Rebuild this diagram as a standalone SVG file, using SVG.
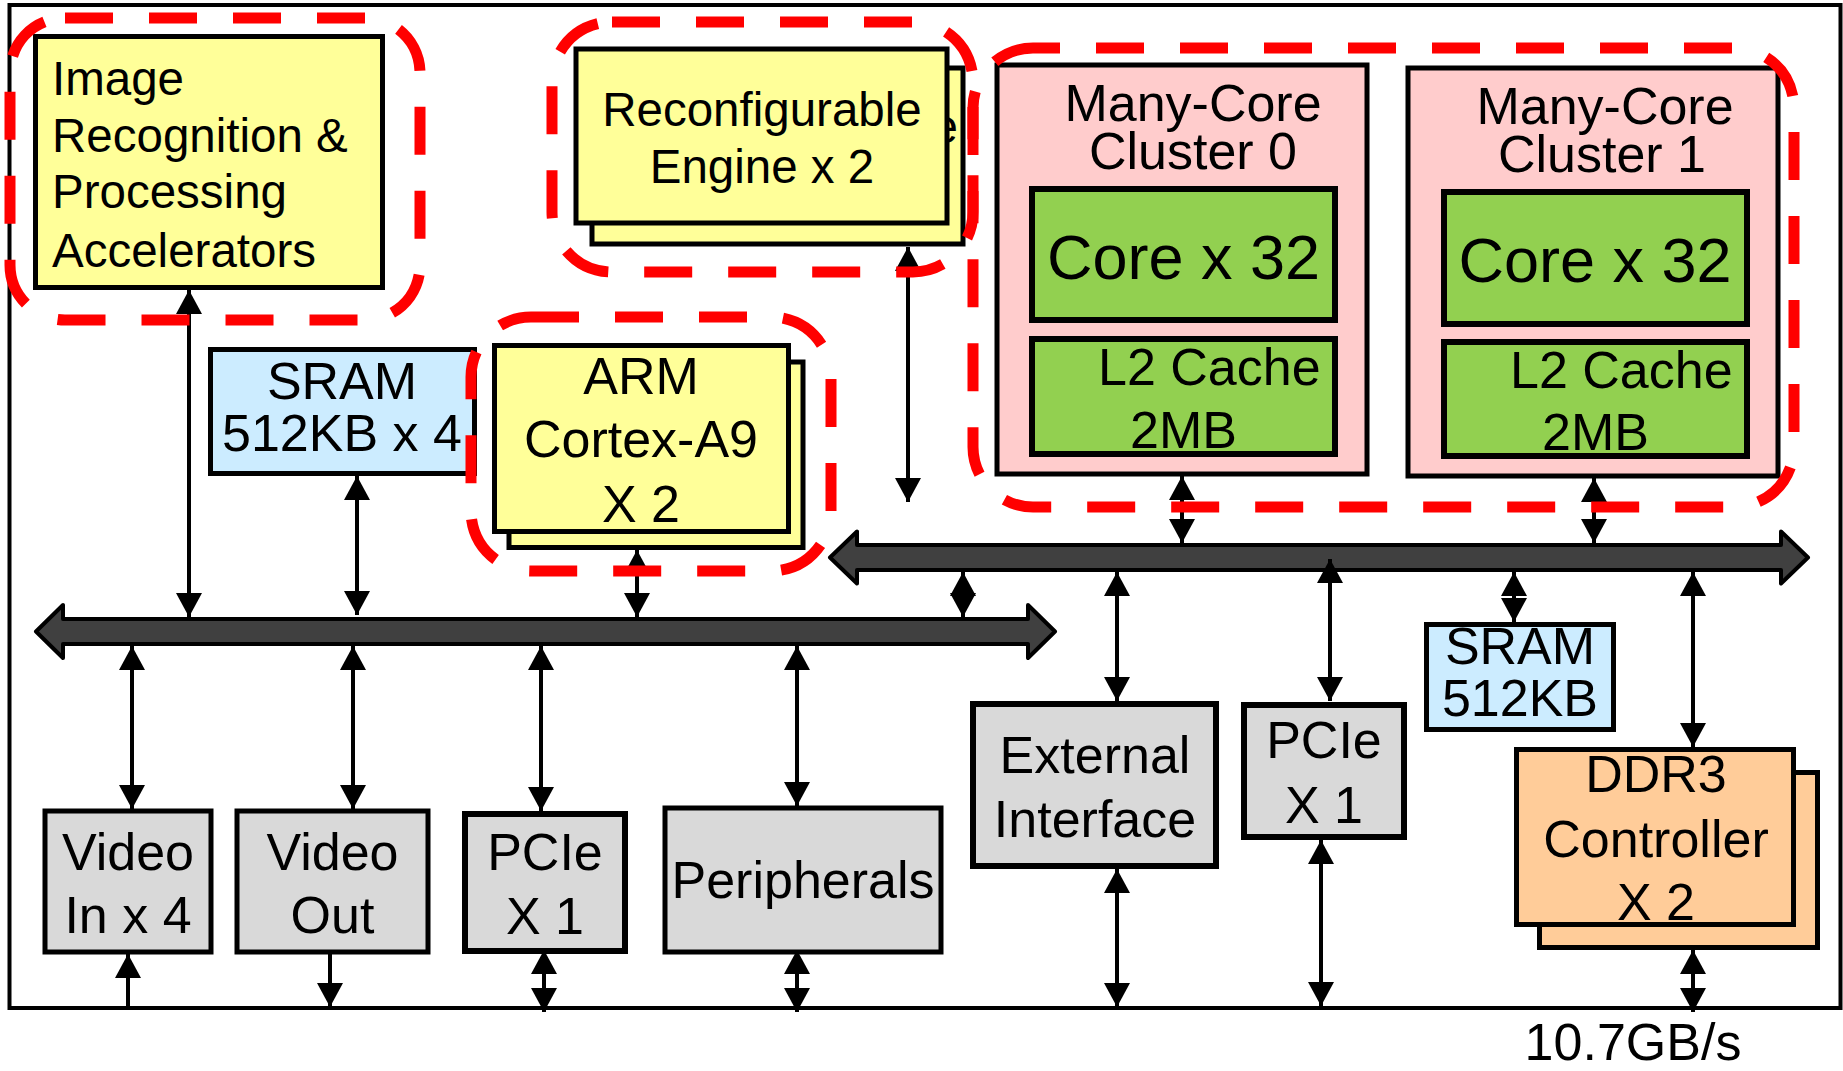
<svg xmlns="http://www.w3.org/2000/svg" width="1843" height="1071" viewBox="0 0 1843 1071">
<defs>
<style>
text{font-family:"Liberation Sans",Arial,sans-serif;fill:#000}
.t52{font-size:52px}
.t47{font-size:47.5px}
.t63{font-size:63px}
.c{text-anchor:middle}
.box{stroke:#000;stroke-width:5}
.thick{stroke-width:6}
.yel{fill:#FFFF99}
.pink{fill:#FFCCCC}
.grn{fill:#92D050}
.blu{fill:#CCECFF}
.gry{fill:#D9D9D9}
.org{fill:#FFCC99}
.bus{fill:#404040;stroke:#000;stroke-width:4;stroke-linejoin:round}
.conn{stroke:#000;stroke-width:4;fill:none}
.dbl{marker-start:url(#ah);marker-end:url(#ah)}
.one{marker-end:url(#ah)}
.grp{fill:none;stroke:#FF0000;stroke-width:11;stroke-dasharray:48 36}
</style>
<marker id="ah" viewBox="0 0 24 26" refX="24" refY="13" markerWidth="24" markerHeight="26" markerUnits="userSpaceOnUse" orient="auto-start-reverse">
<path d="M0,0 L24,13 L0,26 z" fill="#000"/>
</marker>
</defs>
<rect width="1843" height="1071" fill="#fff"/>
<rect id="chip" x="9.5" y="5" width="1831" height="1003" fill="none" stroke="#000" stroke-width="4"/>

<g id="image-recognition">
<rect class="box yel" x="35.5" y="36.5" width="347" height="251"/>
<text class="t47" x="52" y="95">Image</text>
<text class="t47" x="52" y="152">Recognition &amp;</text>
<text class="t47" x="52" y="208">Processing</text>
<text class="t47" x="52" y="267">Accelerators</text>
</g>

<g id="reconfigurable-engine">
<rect class="box yel" x="592" y="68" width="371" height="176"/>
<text class="t47" x="958" y="143" text-anchor="end">e</text>
<rect class="box yel" x="576" y="49" width="371" height="174"/>
<text class="t47 c" x="762" y="126">Reconfigurable</text>
<text class="t47 c" x="762" y="183">Engine x 2</text>
</g>

<g id="cluster0">
<rect class="box pink" x="997" y="65" width="370" height="409"/>
<text class="t52 c" x="1193" y="121">Many-Core</text>
<text class="t52 c" x="1193" y="169">Cluster 0</text>
<rect class="box thick grn" x="1032" y="189" width="303" height="131"/>
<text class="t63 c" x="1183.5" y="279">Core x 32</text>
<rect class="box thick grn" x="1032" y="339" width="303" height="115"/>
<text class="t52" x="1098" y="385">L2 Cache</text>
<text class="t52 c" x="1183.5" y="448">2MB</text>
</g>

<g id="cluster1">
<rect class="box pink" x="1408" y="68" width="370" height="408"/>
<text class="t52 c" x="1605" y="124">Many-Core</text>
<text class="t52 c" x="1602" y="172">Cluster 1</text>
<rect class="box thick grn" x="1444" y="192" width="303" height="132"/>
<text class="t63 c" x="1595" y="282">Core x 32</text>
<rect class="box thick grn" x="1444" y="342" width="303" height="114"/>
<text class="t52" x="1510" y="388">L2 Cache</text>
<text class="t52 c" x="1595.5" y="450">2MB</text>
</g>

<g id="sram-4">
<rect class="box blu" x="210.5" y="349.5" width="264" height="124"/>
<text class="t52 c" x="342" y="399">SRAM</text>
<text class="t52 c" x="342" y="451">512KB x 4</text>
</g>

<g id="arm">
<rect class="box yel" x="509" y="362" width="294" height="185.5"/>
<rect class="box yel" x="494.5" y="345.5" width="294" height="186"/>
<text class="t52 c" x="641" y="394">ARM</text>
<text class="t52 c" x="641" y="457">Cortex-A9</text>
<text class="t52 c" x="641" y="522">X 2</text>
</g>

<g id="video-in">
<rect class="box gry" x="45" y="811" width="166" height="141"/>
<text class="t52 c" x="128" y="870">Video</text>
<text class="t52 c" x="128" y="933">In x 4</text>
</g>

<g id="video-out">
<rect class="box gry" x="237" y="811" width="191" height="141"/>
<text class="t52 c" x="332.5" y="870">Video</text>
<text class="t52 c" x="332.5" y="933">Out</text>
</g>

<g id="pcie-left">
<rect class="box thick gry" x="465" y="814" width="160" height="137"/>
<text class="t52 c" x="545" y="870">PCIe</text>
<text class="t52 c" x="545" y="934">X 1</text>
</g>

<g id="peripherals">
<rect class="box gry" x="665" y="808" width="276" height="144"/>
<text class="t52 c" x="803" y="898">Peripherals</text>
</g>

<g id="external-interface">
<rect class="box thick gry" x="973" y="704" width="243" height="162"/>
<text class="t52 c" x="1095" y="773">External</text>
<text class="t52 c" x="1095" y="837">Interface</text>
</g>

<g id="pcie-right">
<rect class="box thick gry" x="1244" y="705" width="160" height="132"/>
<text class="t52 c" x="1324" y="758">PCIe</text>
<text class="t52 c" x="1324" y="823">X 1</text>
</g>

<g id="sram-1">
<rect class="box blu" x="1426.5" y="624.5" width="187" height="105"/>
<text class="t52 c" x="1520" y="664">SRAM</text>
<text class="t52 c" x="1520" y="716">512KB</text>
</g>

<g id="ddr3">
<rect class="box org" x="1539.5" y="772.5" width="278" height="175"/>
<rect class="box org" x="1516.5" y="749.5" width="277" height="175"/>
<text class="t52 c" x="1656" y="792">DDR3</text>
<text class="t52 c" x="1656" y="857">Controller</text>
<text class="t52 c" x="1656" y="920">X 2</text>
</g>

<g id="buses">
<polygon id="bus-upper" class="bus" points="830,557.5 857,531.5 857,545 1781,545 1781,531.5 1808,557.5 1781,583.5 1781,570 857,570 857,583.5"/>
<polygon id="bus-lower" class="bus" points="36,631.5 63,605 63,619 1028,619 1028,605 1055,631.5 1028,658 1028,644 63,644 63,658"/>
</g>

<g id="connectors">
<path class="conn dbl" d="M189,290 L189,617"/>
<path class="conn dbl" d="M357,476 L357,615"/>
<path class="conn dbl" d="M637,550 L637,617"/>
<path class="conn dbl" d="M908,247 L908,502"/>
<path class="conn dbl" d="M1182,476 L1182,543"/>
<path class="conn dbl" d="M1594,478 L1594,543"/>
<path class="conn dbl" d="M963,572 L963,617"/>
<path class="conn dbl" d="M1117,572 L1117,701"/>
<path class="conn dbl" d="M1330,559 L1330,701"/>
<path class="conn dbl" d="M1514,572 L1514,622"/>
<path class="conn dbl" d="M1693,572 L1693,747"/>
<path class="conn dbl" d="M132,646 L132,809"/>
<path class="conn dbl" d="M353,646 L353,809"/>
<path class="conn dbl" d="M541,646 L541,811"/>
<path class="conn dbl" d="M797,646 L797,806"/>
<path class="conn one" d="M128,1008 L128,954"/>
<path class="conn one" d="M330,954 L330,1007"/>
<path class="conn dbl" d="M544,950 L544,1012"/>
<path class="conn dbl" d="M797,950 L797,1012"/>
<path class="conn dbl" d="M1117,869 L1117,1007"/>
<path class="conn dbl" d="M1321,840 L1321,1006"/>
<path class="conn dbl" d="M1693,950 L1693,1012"/>
</g>

<g id="groups">
<rect class="grp" x="10" y="18" width="410" height="302" rx="55" ry="55"/>
<rect class="grp" x="552" y="22" width="421" height="250" rx="60" ry="60"/>
<rect class="grp" x="471" y="317" width="360" height="254" rx="60" ry="60"/>
<rect class="grp" x="973" y="48" width="821" height="459" rx="60" ry="60" stroke-dashoffset="21"/>
</g>

<text id="bandwidth" class="t52 c" x="1633" y="1060">10.7GB/s</text>
</svg>
